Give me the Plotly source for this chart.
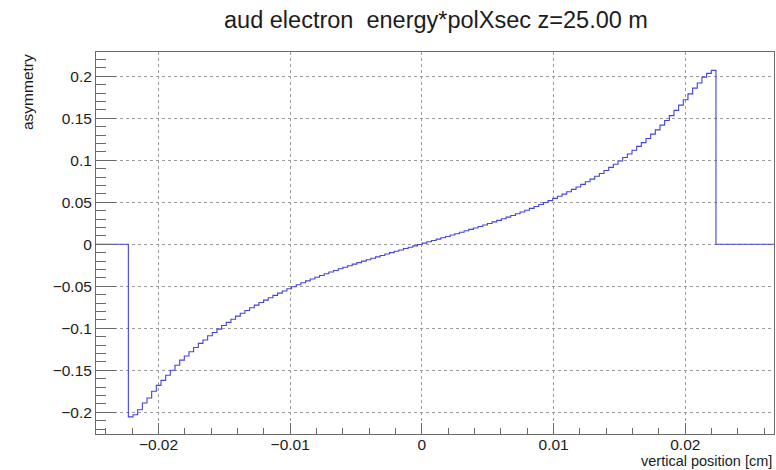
import plotly.graph_objects as go

# ---- data ----
title_text = "aud electron  energy*polXsec z=25.00 m"
x_title = "vertical position [cm]"
y_title = "asymmetry"

x_first_edge = -0.02229      # left edge of first non-empty bin [cm]
bin_width = 0.0003541        # bin width [cm]

asym_left = [
    -0.2055, -0.2030, -0.1970, -0.1890, -0.1830, -0.1750, -0.1680, -0.1620, -0.1560, -0.1500,
    -0.1440, -0.1380, -0.1330, -0.1280, -0.1230, -0.1180, -0.1140, -0.1090, -0.1050, -0.1010,
    -0.0967, -0.0930, -0.0893, -0.0856, -0.0822, -0.0789, -0.0756, -0.0725, -0.0694, -0.0665,
    -0.0637, -0.0608, -0.0582, -0.0556, -0.0530, -0.0506, -0.0482, -0.0459, -0.0436, -0.0414,
    -0.0393, -0.0372, -0.0351, -0.0331, -0.0312, -0.0292, -0.0273, -0.0255, -0.0237, -0.0219,
    -0.0201, -0.0184, -0.0167, -0.0150, -0.0133, -0.0116, -0.0100, -0.0084, -0.0068, -0.0051,
    -0.0035, -0.0019, -0.0003,
]
asym_right = [
    0.0013, 0.0029, 0.0045, 0.0061, 0.0077, 0.0093, 0.0110, 0.0126, 0.0143, 0.0160,
    0.0177, 0.0194, 0.0212, 0.0229, 0.0248, 0.0266, 0.0284, 0.0304, 0.0323, 0.0343,
    0.0364, 0.0384, 0.0405, 0.0427, 0.0450, 0.0473, 0.0497, 0.0520, 0.0546, 0.0572,
    0.0597, 0.0625, 0.0653, 0.0682, 0.0713, 0.0744, 0.0775, 0.0809, 0.0843, 0.0878,
    0.0915, 0.0953, 0.0992, 0.1033, 0.1075, 0.1119, 0.1165, 0.1210, 0.1260, 0.1311,
    0.1362, 0.1418, 0.1474, 0.1531, 0.1594, 0.1656, 0.1721, 0.1790, 0.1859, 0.1920,
    0.1990, 0.2035, 0.2070,
]
asym = asym_left + asym_right

x_range = [-0.024746, 0.026735]
y_range = [-0.2259, 0.2289]

# ---- build histogram outline ----
edges = [x_first_edge + i * bin_width for i in range(len(asym) + 1)]
xs = [x_range[0]] + edges + [x_range[1]]
ys = [0.0] + asym + [0.0, 0.0]

FONT = "Liberation Sans, Arial, Helvetica, sans-serif"
TXT = "#1c1c1c"

fig = go.Figure()
fig.add_trace(go.Scatter(
    x=xs, y=ys, mode="lines", line_shape="hv",
    line=dict(color="#4343dd", width=1.1),
    hoverinfo="skip", showlegend=False,
))

axis_common = dict(
    showline=True, mirror=True, linecolor="#6a6a6a", linewidth=1,
    showgrid=True, gridcolor="#9a9a9a", griddash="dot", gridwidth=1,
    zeroline=False, ticks="inside", tickcolor="#6a6a6a", tickwidth=1,
    tickfont=dict(family=FONT, size=15.5, color=TXT),
)

fig.update_layout(
    width=776, height=470,
    margin=dict(l=96, r=2, t=52, b=36),
    paper_bgcolor="white", plot_bgcolor="white",
    title=dict(text=title_text, x=436 / 776, xanchor="center",
               y=1 - 20 / 470, yanchor="middle",
               font=dict(family=FONT, size=23.5, color=TXT)),
    xaxis=dict(range=x_range, tick0=0, dtick=0.01, ticklen=11,
               ticklabelstandoff=-4,
               minor=dict(ticks="inside", dtick=0.002, ticklen=6,
                          tickcolor="#6a6a6a", showgrid=False),
               **axis_common),
    yaxis=dict(range=y_range, tick0=0, dtick=0.05, ticklen=20,
               minor=dict(ticks="inside", dtick=0.01, ticklen=10,
                          tickcolor="#6a6a6a", showgrid=False),
               **axis_common),
    annotations=[
        dict(text=y_title, textangle=-90, xref="paper", yref="paper",
             x=(27 - 96) / 678, y=1.0, xanchor="center", yanchor="top",
             showarrow=False, font=dict(family=FONT, size=15.5, color=TXT)),
        dict(text=x_title, xref="paper", yref="paper",
             x=(773 - 96) / 678, y=(434 - 461) / 382, xanchor="right",
             yanchor="middle", showarrow=False, borderpad=0,
             font=dict(family=FONT, size=14.5, color=TXT)),
    ],
)

fig.write_html("out.html")
